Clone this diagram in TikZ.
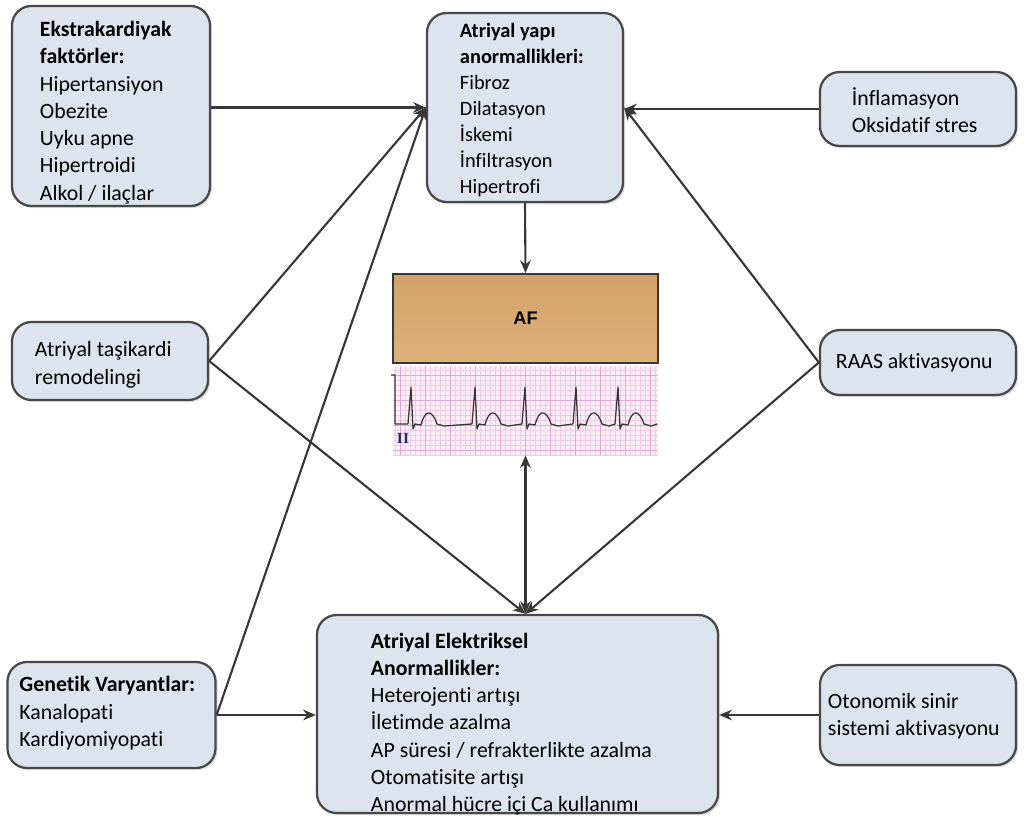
\documentclass[tikz,border=0pt]{standalone}
\usepackage{fontspec}
\setmainfont{Carlito}[Ligatures={NoCommon}]
\newfontfamily\arialfont{Liberation Sans}
\newfontfamily\serifont{Liberation Serif}
\usetikzlibrary{arrows.meta,shadows}
\definecolor{kutumavi}{RGB}{221,228,239}
\definecolor{kenargri}{RGB}{72,72,72}
\definecolor{okgri}{RGB}{55,55,55}
\definecolor{afust}{RGB}{212,162,104}
\definecolor{afalt}{RGB}{222,176,122}
\definecolor{ekgpembe}{RGB}{251,238,247}
\definecolor{izgara}{RGB}{238,204,230}
\definecolor{izgarakoyu}{RGB}{224,170,212}
\definecolor{lacivert}{RGB}{40,40,110}

\begin{document}
\begin{tikzpicture}[x=0.025cm,y=-0.025cm,
  kutu/.style={draw=kenargri,line width=1.6pt,fill=kutumavi,rounded corners=14pt,align=flush left,
    inner ysep=0pt,font=\fontsize{15.5}{19.4}\selectfont,
    drop shadow={shadow xshift=1.5pt,shadow yshift=-1.5pt,opacity=0.25}},
  ok/.style={draw=okgri,line width=1.5pt,-{Stealth[length=9pt,width=7.5pt]}},
  cift/.style={draw=okgri,line width=1.5pt,{Stealth[length=9pt,width=7.5pt]}-{Stealth[length=9pt,width=7.5pt]}}]
\useasboundingbox[fill=white] (0,0) rectangle (1024,821);
%================================================================
%	Left boxes
\node[kutu,text width=3.55cm,inner xsep=0.7cm,text height=21.7pt,text depth=120.6pt] (ekstra) at (111,106)
  {\textbf{Ekstrakardiyak}\\\textbf{faktörler:}\\Hipertansiyon\\Obezite\\Uyku apne\\Hipertroidi\\Alkol / ilaçlar};
\node[kutu,text width=3.75cm,inner xsep=0.575cm,text height=24.9pt,text depth=30.6pt] (tasik) at (110,361)
  {Atriyal taşikardi\\remodelingi};
\node[kutu,text width=4.6cm,inner xsep=0.3cm,text height=21.3pt,text depth=54.1pt] (genetik) at (111.5,715)
  {\textbf{Genetik Varyantlar:}\\Kanalopati\\Kardiyomiyopati};

%================================================================
%	Center boxes
\node[kutu,text width=3.25cm,inner xsep=0.825cm,text height=17.1pt,text depth=117.3pt,
  font=\fontsize{14.5}{18.5}\selectfont] (yapi) at (525,107.5)
  {\textbf{Atriyal yapı}\\\textbf{anormallikleri:}\\Fibroz\\Dilatasyon\\İskemi\\İnfiltrasyon\\Hipertrofi};
\node[kutu,text width=7.325cm,inner xsep=1.35cm,text height=23.5pt,text depth=117.3pt] (elek) at (517.5,714)
  {\textbf{Atriyal Elektriksel}\\\textbf{Anormallikler:}\\Heterojenti artışı\\İletimde azalma\\AP süresi / refrakterlikte azalma\\Otomatisite artışı\\Anormal hücre içi Ca kullanımı};
%----------------------------------------------------------------
\node[draw=okgri,line width=1.4pt,top color=afust,bottom color=afalt,minimum width=6.625cm,minimum height=2.225cm,
  font=\arialfont\bfseries\fontsize{13}{15}\selectfont] (af) at (525.5,318.5) {AF};
\node[fill=ekgpembe,minimum width=6.625cm,minimum height=2.225cm,inner sep=0pt] (ekg) at (525.5,410.5) {};
\draw[izgara,line width=0.3pt,step=0.125cm] (ekg.north west) grid (ekg.south east);
\draw[izgarakoyu,line width=0.5pt,step=0.625cm] (ekg.north west) grid (ekg.south east);
\draw[okgri,line width=0.9pt,line join=round] (391,375) -- (395,375) -- (395,424)
  \foreach \b in {412,476,526,577,619} { -- (\b-4,424) -- (\b-1,387) -- (\b+1,429) -- (\b+3,424) -- (\b+9,425)
  .. controls (\b+13,409) and (\b+20,409) .. (\b+25,424) -- (\b+32,426) } -- (657,424);
\node[text=lacivert,font=\serifont\bfseries\fontsize{11}{12}\selectfont] (lead) at (403,438) {II};

%================================================================
%	Right boxes
\node[kutu,text width=3.3cm,inner xsep=0.8cm,text height=23.5pt,text depth=29.1pt] (infl) at (918,109)
  {İnflamasyon\\Oksidatif stres};
\node[kutu,text width=4.1cm,inner xsep=0.4cm,text height=27.7pt,text depth=18.5pt] (raas) at (918,362.5)
  {RAAS aktivasyonu};
\node[kutu,text width=4.5cm,inner xsep=0.2cm,text height=30.6pt,text depth=40.5pt] (oton) at (918,715)
  {Otonomik sinir\\sistemi aktivasyonu};

%================================================================
%	Arrows
\coordinate (ust) at (elek.north -| af.south);
\draw[ok] (ekstra.east |- yapi.west) -- (yapi.west);
\draw[ok] (tasik.east) -- (yapi.west);
\draw[ok] (genetik.east) -- (yapi.west);
\draw[ok] (infl.west) -- (infl.west -| yapi.east);
\draw[ok] (raas.west) -- (yapi.east);
\draw[ok] (yapi.south) -- (af.north);
\draw[ok] (tasik.east) -- (ust);
\draw[ok] (raas.west) -- (ust);
\draw[cift] (ekg.south) -- (ust);
\draw[ok] (genetik.east) -- (genetik.east -| elek.west);
\draw[ok] (oton.west) -- (oton.west -| elek.east);
%================================================================
\end{tikzpicture}
\end{document}
